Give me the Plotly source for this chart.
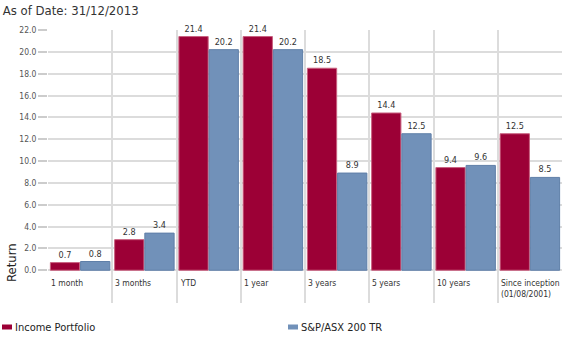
import plotly.graph_objects as go

categories = ["1 month", "3 months", "YTD", "1 year", "3 years", "5 years", "10 years",
              "Since inception<br>(01/08/2001)"]
income_portfolio = [0.7, 2.8, 21.4, 21.4, 18.5, 14.4, 9.4, 12.5]
sp_asx_200_tr = [0.8, 3.4, 20.2, 20.2, 8.9, 12.5, 9.6, 8.5]
series_names = ["Income Portfolio", "S&P/ASX 200 TR"]
y_ticks = [0, 2, 4, 6, 8, 10, 12, 14, 16, 18, 20, 22]
title_text = "As of Date: 31/12/2013"

RED = "#9c0036"
BLUE = "#7191b9"
FONT = "DejaVu Sans Condensed, Liberation Sans Narrow, sans-serif"
xs = list(range(len(categories)))

plot_w = 565 - 48 - 3
plot_h = 340 - 30 - 37

fig = go.Figure()
for name, vals, col, edge in [(series_names[0], income_portfolio, RED, "#c8607f"),
                              (series_names[1], sp_asx_200_tr, BLUE, "#5f7fa8")]:
    fig.add_trace(go.Bar(
        x=xs, y=vals, name=name,
        marker=dict(color=col, line=dict(color=edge, width=1)),
        text=[f"{v:.1f}" for v in vals], textposition="outside",
        textfont=dict(family=FONT, size=9, color="#333333"),
        cliponaxis=False, showlegend=False,
    ))

annotations = []
for i, c in enumerate(categories):
    annotations.append(dict(
        x=i - 0.5, y=-0.55, xref="x", yref="y", text=c, showarrow=False,
        xanchor="left", yanchor="top", align="left", xshift=1,
        font=dict(family=FONT, size=8.5, color="#333333"),
    ))

annotations.append(dict(
    x=(11 - 48) / plot_w, y=(303 - 263) / plot_h, xref="paper", yref="paper",
    text="Return", showarrow=False, textangle=-90,
    xanchor="center", yanchor="middle",
    font=dict(family=FONT, size=13, color="#222222"),
))

legend_items = [(series_names[0], RED, 2), (series_names[1], BLUE, 288)]
shapes = []
for name, col, px in legend_items:
    yc = (303 - 327) / plot_h
    shapes.append(dict(type="rect", xref="paper", yref="paper",
                       x0=(px - 48) / plot_w, x1=(px + 10 - 48) / plot_w,
                       y0=yc - 2.5 / plot_h, y1=yc + 2.5 / plot_h,
                       fillcolor=col, line=dict(width=0)))
    annotations.append(dict(x=(px + 11 - 48) / plot_w, y=yc, xref="paper", yref="paper",
                            text=name, showarrow=False, xanchor="left", yanchor="middle",
                            font=dict(family=FONT, size=11, color="#222222")))

fig.update_layout(
    width=565, height=340,
    margin=dict(l=48, r=3, t=30, b=37),
    paper_bgcolor="white", plot_bgcolor="white",
    barmode="group", bargap=0.06, bargroupgap=0.03,
    font=dict(family=FONT, color="#333333"),
    title=dict(text=title_text, x=0.005, xanchor="left", y=0.97, yanchor="middle",
               font=dict(family=FONT, size=13, color="#333333")),
    xaxis=dict(range=[-0.5, len(categories) - 0.5],
               tickvals=[i - 0.5 for i in range(len(categories) + 1)],
               showticklabels=False, showgrid=True, gridcolor="#dcdcdc", gridwidth=2,
               zeroline=False, showline=False, ticks=""),
    yaxis=dict(range=[-3, 22], tickvals=y_ticks,
               ticktext=[f"{t:.1f}" for t in y_ticks],
               showgrid=True, gridcolor="#dcdcdc", gridwidth=1.5,
               zeroline=False, showline=False,
               ticks="outside", ticklen=9, tickcolor="#cccccc", tickwidth=1.5,
               tickfont=dict(family=FONT, size=8.5, color="#555555")),
    showlegend=False,
    annotations=annotations, shapes=shapes,
)

fig.write_html("out.html")
